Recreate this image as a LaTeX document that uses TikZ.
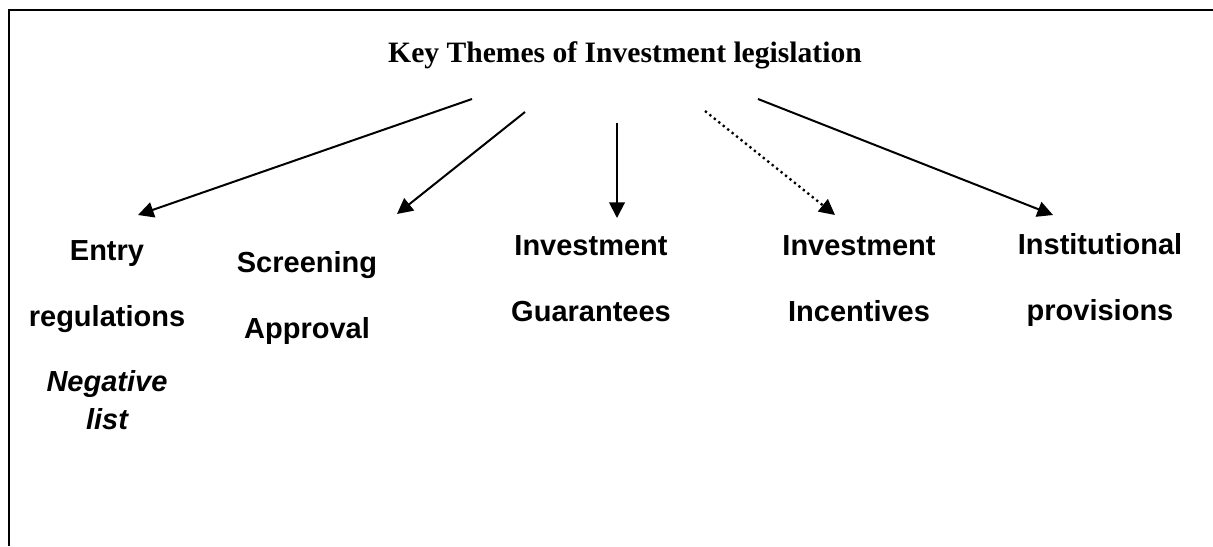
\documentclass[tikz,border=0pt]{standalone}
\usepackage{fontspec}
\setmainfont{Liberation Serif}
\setsansfont{Liberation Sans}
\usetikzlibrary{arrows.meta}
\begin{document}
\begin{tikzpicture}[x=0.5pt,y=-0.5pt,
  heading/.style={font=\bfseries\fontsize{14.8}{18}\selectfont, anchor=base, inner sep=0pt},
  % multi-line labels: the base anchor sits on the last line
  theme/.style={font=\sffamily\bfseries\fontsize{14.5}{32.75}\selectfont,
                align=center, anchor=base, inner sep=0pt},
  link/.style={line width=1pt, -{Triangle[length=7.8pt,width=7.8pt]}},
  weaklink/.style={link, line width=1.15pt, dash pattern=on 1.15pt off 1.7pt}]
\useasboundingbox (0,0) rectangle (1213,546);

% frame
\draw[line width=0.9pt] (9.2,546) -- (9.2,10.2) -- (1213,10.2);

% heading
\node[heading] (title) at (625,62) {Key Themes of Investment legislation};

% themes
\node[theme] (entry) at (107,429)
  {Entry\\regulations\\\itshape Negative\\[-14pt]\itshape list};
\node[theme] (screen) at (307,338) {Screening\\Approval};
\node[theme] (guar) at (591,321) {Investment\\Guarantees};
\node[theme] (incent) at (859,321) {Investment\\Incentives};
\node[theme] (inst) at (1100,320) {Institutional\\provisions};

% arrow ends
\coordinate (s1) at (472,99);   \coordinate (t1) at (138,215);
\coordinate (s2) at (525,112);  \coordinate (t2) at (397,214);
\coordinate (s3) at (617,123);  \coordinate (t3) at (617,218);
\coordinate (s4) at (705,111);  \coordinate (t4) at (835,215);
\coordinate (s5) at (758,99);   \coordinate (t5) at (1053,215);

\draw[link] (s1) -- (t1);
\draw[link] (s2) -- (t2);
\draw[link] (s3) -- (t3);
\draw[weaklink] (s4) -- (t4);
\draw[link] (s5) -- (t5);
\end{tikzpicture}
\end{document}
